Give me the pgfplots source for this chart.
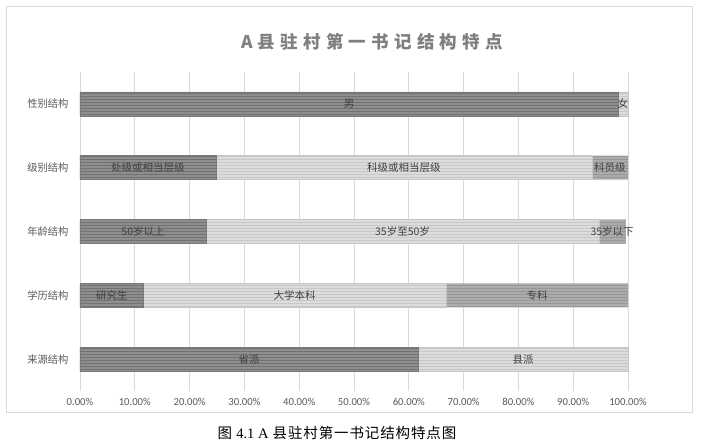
\documentclass[border=0pt]{standalone}
\usepackage{fontspec}
\setmainfont{Carlito}
\newfontfamily\cjk{Noto Sans CJK SC}
\newfontfamily\sernum{Liberation Serif}
\usepackage{pgfplots}
\pgfplotsset{compat=1.18}
\usetikzlibrary{patterns}
\definecolor{dk}{HTML}{8E8E8E}
\definecolor{dkl}{HTML}{727272}
\definecolor{dke}{HTML}{7A7A7A}
\definecolor{lt}{HTML}{DCDCDC}
\definecolor{ltl}{HTML}{C8C8C8}
\definecolor{lte}{HTML}{C6C6C6}
\definecolor{md}{HTML}{ABABAB}
\definecolor{mdl}{HTML}{989898}
\definecolor{mde}{HTML}{999999}
\definecolor{gridc}{HTML}{D9D9D9}
\definecolor{txt}{HTML}{595959}
\definecolor{lbl}{HTML}{404040}
\definecolor{titlec}{HTML}{7F7F7F}
\tikzset{lab/.style={text=lbl, font=\cjk\fontsize{10.5}{12}\selectfont}}
\begin{document}
\begin{tikzpicture}[x=1pt,y=1pt]
\useasboundingbox (0,0) rectangle (702,445);
\fill[white] (0,0) rectangle (702,445);
\draw[gridc, line width=0.8pt] (6,33) rectangle (692,439);
\node[text=titlec] at (372,403) {\cjk\bfseries\fontsize{17.5}{20}\selectfont\addfontfeature{LetterSpace=30}A县驻村第一书记结构特点};
\node at (337,12) {\fontsize{14.5}{16}\selectfont\cjk\addfontfeature{LetterSpace=6}图 {\sernum 4.1 A} 县驻村第一书记结构特点图};
\begin{axis}[
  at={(80pt,54pt)}, anchor=south west, scale only axis,
  width=548pt, height=319pt,
  xmin=0, xmax=100, ymin=0.5, ymax=5.5, y dir=reverse,
  xbar stacked, bar width=24pt,
  axis line style={draw=none},
  major tick length=0pt,
  xmajorgrids, major grid style={gridc, line width=0.8pt},
  xtick={0,10,...,100},
  xticklabels={0.00\%,10.00\%,20.00\%,30.00\%,40.00\%,50.00\%,60.00\%,70.00\%,80.00\%,90.00\%,100.00\%},
  xticklabel style={text=txt, font=\fontsize{10.7}{12}\selectfont, yshift=-4pt},
  ytick={1,2,3,4,5},
  yticklabels={性别结构,级别结构,年龄结构,学历结构,来源结构},
  yticklabel style={text=txt, font=\cjk\fontsize{10.3}{12}\selectfont, xshift=-8pt},
  clip=false,
]
\addplot[fill=dk, draw=dke, line width=0.6pt, postaction={pattern=horizontal lines, pattern color=dkl}] coordinates {(98.2,1) (24.8,2) (23.0,3) (11.5,4) (61.7,5)};
\addplot[fill=lt, draw=lte, line width=0.6pt, postaction={pattern=horizontal lines, pattern color=ltl}] coordinates {(1.8,1) (68.6,2) (71.7,3) (55.3,4) (38.3,5)};
\addplot[fill=md, draw=none, postaction={pattern=horizontal lines, pattern color=mdl}] coordinates {(0,1) (6.6,2) (4.9,3) (33.2,4) (0,5)};
\coordinate (a1) at (axis cs:49.1,1);
\coordinate (a2) at (axis cs:99.1,1);
\coordinate (b1) at (axis cs:12.4,2);
\coordinate (b2) at (axis cs:59.1,2);
\coordinate (b3) at (axis cs:96.7,2);
\coordinate (c1) at (axis cs:11.5,3);
\coordinate (c2) at (axis cs:58.85,3);
\coordinate (c3) at (axis cs:97.1,3);
\coordinate (d1) at (axis cs:5.8,4);
\coordinate (d2) at (axis cs:39.15,4);
\coordinate (d3) at (axis cs:83.4,4);
\coordinate (e1) at (axis cs:30.85,5);
\coordinate (e2) at (axis cs:80.85,5);
\end{axis}
\node[lab] at (a1) {男};
\node[lab] at (a2) {女};
\node[lab] at (b1) {处级或相当层级};
\node[lab] at (b2) {科级或相当层级};
\node[lab] at (b3) {科员级};
\node[lab] at (c1) {50岁以上};
\node[lab] at (c2) {35岁至50岁};
\node[lab] at (c3) {35岁以下};
\node[lab] at (d1) {研究生};
\node[lab] at (d2) {大学本科};
\node[lab] at (d3) {专科};
\node[lab] at (e1) {省派};
\node[lab] at (e2) {县派};
\end{tikzpicture}
\end{document}
